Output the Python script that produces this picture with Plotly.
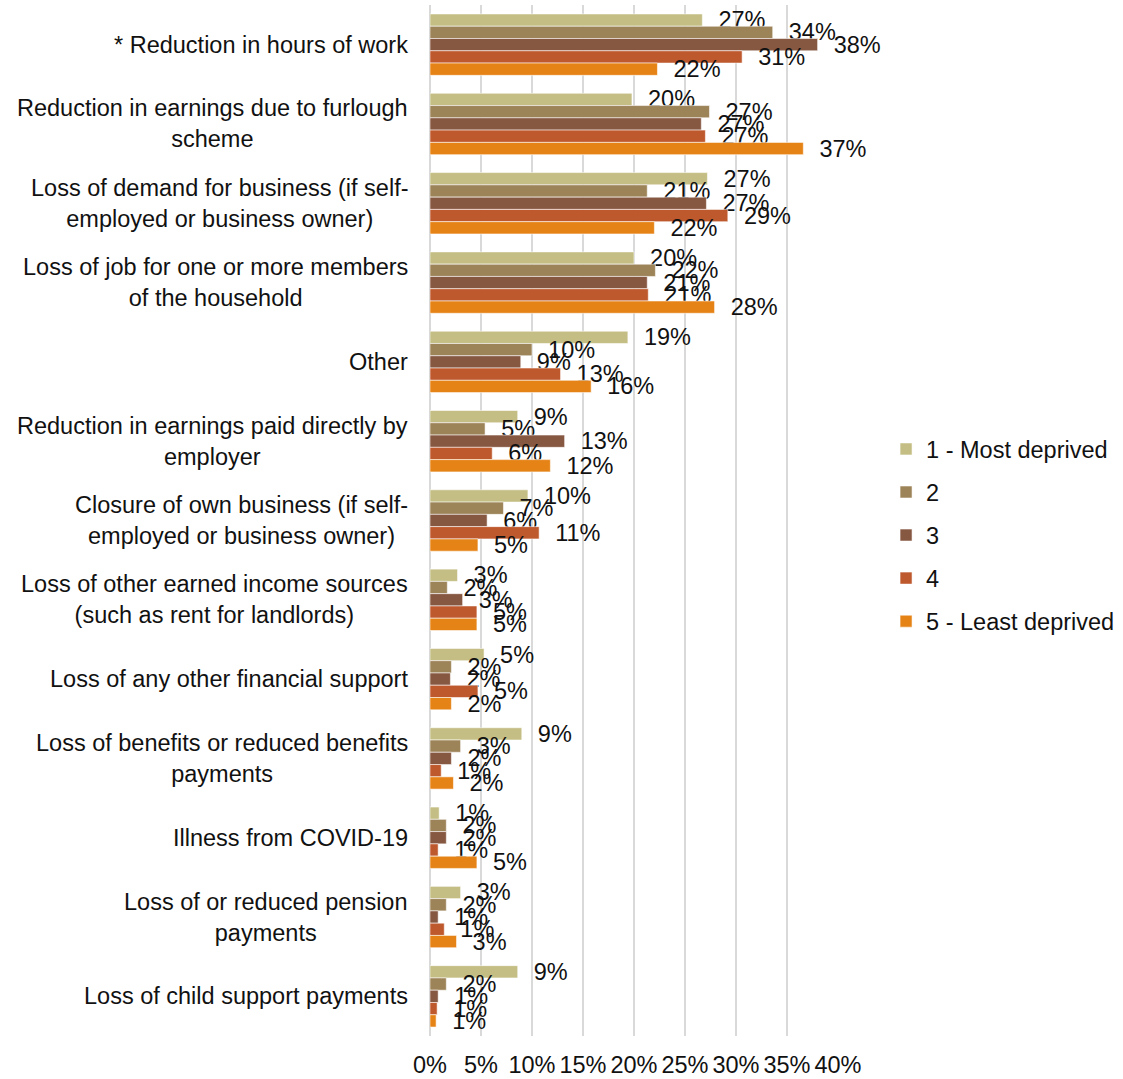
import plotly.graph_objects as go

categories = [
    "* Reduction in hours of work",
    "Reduction in earnings due to furlough<br>scheme",
    "Loss of demand for business (if self-<br>employed or business owner)",
    "Loss of job for one or more members<br>of the household",
    "Other",
    "Reduction in earnings paid directly by<br>employer",
    "Closure of own business (if self-<br>employed or business owner)",
    "Loss of other earned income sources<br>(such as rent for landlords)",
    "Loss of any other financial support",
    "Loss of benefits or reduced benefits<br>payments",
    "Illness from COVID-19",
    "Loss of or reduced pension<br>payments",
    "Loss of child support payments",
]

series_names = ["1 - Most deprived", "2", "3", "4", "5 - Least deprived"]

q1_most_deprived = [26.7, 19.8, 27.2, 20.0, 19.4, 8.6, 9.6, 2.7, 5.3, 9.0, 0.9, 3.0, 8.6]
q2 = [33.6, 27.4, 21.3, 22.1, 10.0, 5.4, 7.2, 1.7, 2.1, 3.0, 1.6, 1.6, 1.6]
q3 = [38.0, 26.6, 27.1, 21.3, 8.9, 13.2, 5.6, 3.2, 2.0, 2.1, 1.6, 0.8, 0.8]
q4 = [30.6, 27.0, 29.2, 21.4, 12.8, 6.1, 10.7, 4.6, 4.7, 1.1, 0.8, 1.4, 0.7]
q5_least_deprived = [22.3, 36.6, 22.0, 27.9, 15.8, 11.8, 4.7, 4.6, 2.1, 2.3, 4.6, 2.6, 0.6]

series_values = [q1_most_deprived, q2, q3, q4, q5_least_deprived]
colors = ["#C4BE84", "#9D8358", "#865741", "#BE582D", "#E68316"]

FONT = "Liberation Sans, Arial, sans-serif"
FS = 23.5

fig = go.Figure()
for i, (name, vals, col) in enumerate(zip(series_names, series_values, colors)):
    fig.add_trace(go.Bar(
        y=categories,
        x=[v / 100 for v in vals],
        name=name,
        orientation="h",
        marker=dict(color=col, line=dict(color="rgba(255,255,255,0.55)", width=1)),
        text=["\u00a0\u00a0" + f"{round(v)}%" for v in vals],
        textposition="outside",
        textfont=dict(family=FONT, size=FS, color="#111111"),
        constraintext="none",
        cliponaxis=False,
        legendgroup=f"g{i}",
        hoverinfo="x+y+name",
    ))

for c in categories:
    fig.add_annotation(
        x=0, xref="paper", y=c, yref="y",
        text=c, showarrow=False, xanchor="right", align="center",
        xshift=-20, font=dict(family=FONT, size=FS, color="#111111"),
    )

fig.update_layout(
    width=1123, height=1079,
    margin=dict(l=430, r=285, t=5, b=43, autoexpand=False),
    paper_bgcolor="white", plot_bgcolor="white",
    barmode="group", bargap=0.226, bargroupgap=0,
    font=dict(family=FONT, size=FS, color="#111111"),
    legend=dict(
        xref="container", yref="container",
        x=0.789, y=0.504, xanchor="left", yanchor="middle",
        traceorder="grouped", tracegroupgap=9.5,
        font=dict(family=FONT, size=FS, color="#111111"),
        itemwidth=30,
    ),
    xaxis=dict(
        range=[0, 0.4], dtick=0.05, tickformat=".0%",
        showgrid=True, gridcolor="#D9D9D9", gridwidth=2,
        zeroline=True, zerolinecolor="#D9D9D9", zerolinewidth=2,
        showline=False, ticks="", ticklabelstandoff=12,
        tickfont=dict(family=FONT, size=FS, color="#111111"),
    ),
    yaxis=dict(
        autorange="reversed", showticklabels=False, showgrid=False,
        zeroline=False, showline=False, ticks="",
    ),
    showlegend=True,
)

fig.write_html(
    "out.html",
    config={"displayModeBar": False},
    post_script="document.body.style.margin='0px';document.body.style.overflow='hidden';",
)
